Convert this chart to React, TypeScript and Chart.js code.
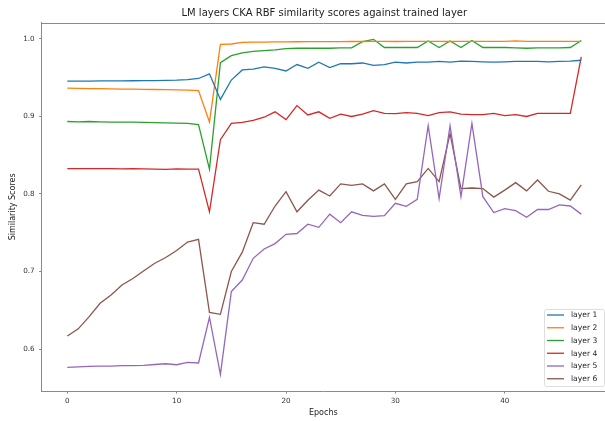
import React, { useEffect, useRef } from "react";
import { Chart, registerables } from "chart.js";

Chart.register(...registerables);

const epochs = [0, 1, 2, 3, 4, 5, 6, 7, 8, 9, 10, 11, 12, 13, 14, 15, 16, 17, 18, 19, 20, 21, 22, 23, 24, 25, 26, 27, 28, 29, 30, 31, 32, 33, 34, 35, 36, 37, 38, 39, 40, 41, 42, 43, 44, 45, 46, 47];

const layer1 = [0.9455, 0.9456, 0.9457, 0.9459, 0.946, 0.946, 0.9461, 0.9462, 0.9463, 0.9466, 0.9468, 0.9475, 0.949, 0.955, 0.922, 0.947, 0.96, 0.961, 0.964, 0.962, 0.9587, 0.967, 0.962, 0.97, 0.963, 0.968, 0.968, 0.969, 0.966, 0.967, 0.97, 0.969, 0.97, 0.97, 0.971, 0.97, 0.9715, 0.971, 0.9705, 0.97, 0.9705, 0.971, 0.971, 0.971, 0.9705, 0.971, 0.9715, 0.9725];
const layer2 = [0.9365, 0.9362, 0.936, 0.9358, 0.9356, 0.9354, 0.9352, 0.935, 0.9348, 0.9346, 0.9343, 0.934, 0.9333, 0.893, 0.993, 0.9935, 0.9955, 0.996, 0.996, 0.9962, 0.9963, 0.9964, 0.9965, 0.9965, 0.9966, 0.9966, 0.9967, 0.9967, 0.9968, 0.9968, 0.9967, 0.9968, 0.9968, 0.9968, 0.9968, 0.9967, 0.9968, 0.9968, 0.9968, 0.9968, 0.9969, 0.9975, 0.997, 0.997, 0.997, 0.997, 0.997, 0.997];
const layer3 = [0.8935, 0.893, 0.8935, 0.893, 0.8928, 0.8927, 0.8927, 0.8925, 0.892, 0.8918, 0.8915, 0.891, 0.8895, 0.832, 0.9695, 0.9785, 0.982, 0.984, 0.985, 0.986, 0.9875, 0.988, 0.988, 0.988, 0.988, 0.9885, 0.9885, 0.9965, 0.9995, 0.989, 0.989, 0.989, 0.989, 0.9975, 0.989, 0.9975, 0.989, 0.998, 0.989, 0.989, 0.989, 0.9885, 0.988, 0.9885, 0.9885, 0.9885, 0.989, 0.998];
const layer4 = [0.8327, 0.8328, 0.8328, 0.8327, 0.8327, 0.8325, 0.8327, 0.8325, 0.832, 0.8318, 0.8325, 0.832, 0.832, 0.777, 0.87, 0.891, 0.8925, 0.895, 0.899, 0.906, 0.896, 0.914, 0.902, 0.906, 0.8976, 0.903, 0.9, 0.903, 0.9075, 0.904, 0.9036, 0.905, 0.904, 0.901, 0.905, 0.906, 0.903, 0.9025, 0.9025, 0.904, 0.901, 0.9025, 0.9, 0.904, 0.904, 0.904, 0.904, 0.977];
const layer5 = [0.5763, 0.577, 0.5776, 0.5778, 0.578, 0.5785, 0.5785, 0.579, 0.58, 0.581, 0.5797, 0.5828, 0.582, 0.641, 0.5673, 0.674, 0.689, 0.717, 0.729, 0.736, 0.748, 0.749, 0.761, 0.757, 0.774, 0.763, 0.777, 0.7725, 0.771, 0.772, 0.788, 0.784, 0.793, 0.888, 0.794, 0.888, 0.7965, 0.891, 0.7965, 0.776, 0.781, 0.7785, 0.77, 0.78, 0.78, 0.786, 0.7845, 0.774];
const layer6 = [0.6168, 0.626, 0.6417, 0.659, 0.6697, 0.6826, 0.691, 0.701, 0.7106, 0.718, 0.727, 0.738, 0.7415, 0.6473, 0.6447, 0.7, 0.725, 0.763, 0.761, 0.7845, 0.803, 0.777, 0.792, 0.805, 0.7974, 0.813, 0.811, 0.813, 0.804, 0.813, 0.793, 0.813, 0.816, 0.833, 0.816, 0.878, 0.807, 0.8077, 0.807, 0.796, 0.805, 0.8146, 0.804, 0.818, 0.8035, 0.8, 0.792, 0.8116];

const seriesNames = ["layer 1", "layer 2", "layer 3", "layer 4", "layer 5", "layer 6"];
const seriesColors = ["#1f77b4", "#ff7f0e", "#2ca02c", "#d62728", "#9467bd", "#8c564b"];
const xTicks = [0, 10, 20, 30, 40];
const yTicks = [0.6, 0.7, 0.8, 0.9, 1.0];

const titleText = "LM layers CKA RBF similarity scores against trained layer";
const xTitle = "Epochs";
const yTitle = "Similarity Scores";

const FONT = "'DejaVu Sans', sans-serif";
const AXIS_COLOR = "#8a8a8a";

export default function App() {
  const ref = useRef<HTMLCanvasElement | null>(null);

  useEffect(() => {
    const canvas = ref.current;
    if (!canvas) return;
    const all = [layer1, layer2, layer3, layer4, layer5, layer6];

    const framePlugin = {
      id: "frame",
      afterDraw(chart: any) {
        const { ctx, chartArea } = chart;
        ctx.save();
        // top spine
        ctx.strokeStyle = AXIS_COLOR;
        ctx.lineWidth = 1;
        ctx.beginPath();
        ctx.moveTo(chartArea.left, Math.round(chartArea.top) + 0.5);
        ctx.lineTo(chartArea.right, Math.round(chartArea.top) + 0.5);
        ctx.stroke();

        // title centred over the axes (axes extend past the canvas edge)
        ctx.fillStyle = "#222";
        ctx.font = `10px ${FONT}`;
        ctx.textAlign = "center";
        ctx.textBaseline = "middle";
        ctx.fillText(titleText, 324.3, 13);

        // legend (lower right, inside axes)
        const bx = 544, by = 309, bw = 60, bh = 77;
        ctx.fillStyle = "rgba(255,255,255,0.8)";
        ctx.strokeStyle = "#d5d5d5";
        ctx.lineWidth = 0.8;
        ctx.beginPath();
        ctx.roundRect(bx + 0.5, by + 0.5, bw, bh, 2);
        ctx.fill();
        ctx.stroke();
        ctx.font = `7.6px ${FONT}`;
        ctx.textBaseline = "middle";
        ctx.textAlign = "left";
        seriesNames.forEach((name, i) => {
          const y = 315 + i * 12.75;
          ctx.strokeStyle = seriesColors[i];
          ctx.lineWidth = 1.3;
          ctx.beginPath();
          ctx.moveTo(547, y);
          ctx.lineTo(564, y);
          ctx.stroke();
          ctx.fillStyle = "#222";
          ctx.fillText(name, 571, y + 0.5);
        });
        ctx.restore();
      },
    };

    const chart = new Chart(canvas, {
      type: "line",
      data: {
        datasets: all.map((arr, i) => ({
          label: seriesNames[i],
          data: arr.map((v, j) => ({ x: epochs[j], y: v })),
          borderColor: seriesColors[i],
          backgroundColor: seriesColors[i],
          borderWidth: 1.3,
          pointRadius: 0,
          tension: 0,
          fill: false,
        })),
      },
      options: {
        animation: false,
        responsive: false,
        devicePixelRatio: 1,
        layout: { padding: { left: 0, right: 0, top: 22.6, bottom: 0 } },
        plugins: {
          legend: { display: false },
          tooltip: { enabled: false },
          title: { display: false },
        },
        scales: {
          x: {
            type: "linear",
            min: -2.35,
            max: 49.17,
            afterBuildTicks: (s: any) => {
              s.ticks = xTicks.map((v) => ({ value: v }));
            },
            afterFit: (s: any) => {
              s.height = 29.9;
            },
            ticks: {
              color: "#333",
              font: { family: FONT, size: 7.2 },
              padding: 3,
              maxRotation: 0,
              autoSkip: false,
            },
            grid: { drawOnChartArea: false, drawTicks: true, tickLength: 2.5, color: AXIS_COLOR },
            border: { display: true, color: AXIS_COLOR },
            title: {
              display: true,
              text: xTitle,
              color: "#222",
              font: { family: FONT, size: 8 },
              padding: { top: 0, bottom: 3.3 },
            },
          },
          y: {
            type: "linear",
            min: 0.5457,
            max: 1.0211,
            afterBuildTicks: (s: any) => {
              s.ticks = yTicks.map((v) => ({ value: v }));
            },
            afterFit: (s: any) => {
              s.width = 41.6;
            },
            ticks: {
              color: "#333",
              font: { family: FONT, size: 7.2 },
              padding: 4.5,
              callback: (v: any) => Number(v).toFixed(1),
            },
            grid: { drawOnChartArea: false, drawTicks: true, tickLength: 2.5, color: AXIS_COLOR },
            border: { display: true, color: AXIS_COLOR },
            title: {
              display: true,
              text: yTitle,
              color: "#222",
              font: { family: FONT, size: 8 },
              padding: { top: 8, bottom: 0 },
            },
          },
        },
      },
      plugins: [framePlugin],
    });
    return () => chart.destroy();
  }, []);

  return (
    <div style={{ position: "fixed", left: 0, top: 0, width: 605, height: 421, background: "#fff" }}>
      <canvas ref={ref} width={605} height={421} style={{ display: "block" }} />
    </div>
  );
}
